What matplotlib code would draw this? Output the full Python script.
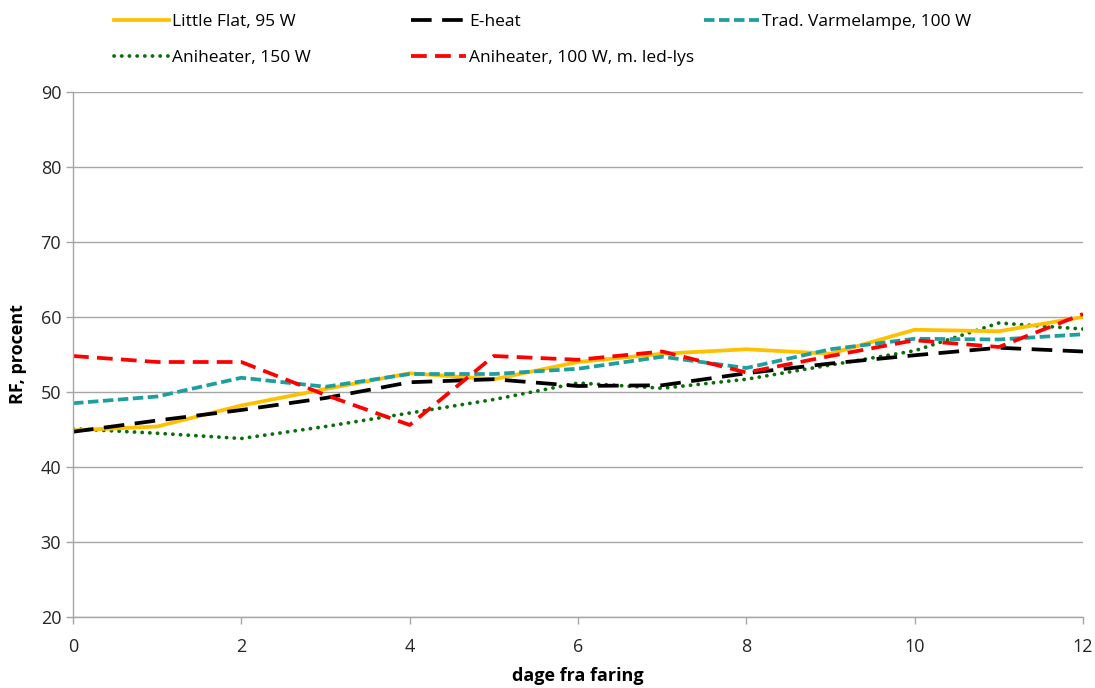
import matplotlib
matplotlib.use("Agg")
import matplotlib.pyplot as plt

plt.rcParams['font.family'] = ['Open Sans', 'DejaVu Sans']

days = list(range(13))
little_flat = [44.9, 45.4, 48.2, 50.4, 52.5, 51.7, 54.0, 55.1, 55.7, 55.1, 58.3, 58.1, 60.0]
e_heat = [44.7, 46.2, 47.6, 49.2, 51.3, 51.7, 50.8, 50.9, 52.5, 53.8, 54.9, 55.9, 55.4]
trad_varmelampe = [48.5, 49.4, 51.9, 50.7, 52.4, 52.4, 53.1, 54.7, 53.2, 55.7, 57.1, 57.0, 57.7]
aniheater_150 = [45.1, 44.5, 43.8, 45.4, 47.2, 49.0, 51.2, 50.5, 51.7, 53.6, 55.5, 59.2, 58.4]
aniheater_100 = [54.8, 54.0, 54.0, 49.6, 45.6, 54.8, 54.3, 55.4, 52.6, 54.8, 56.9, 56.0, 60.4]

labels = ["Little Flat, 95 W", "E-heat", "Trad. Varmelampe, 100 W",
          "Aniheater, 150 W", "Aniheater, 100 W, m. led-lys"]
xticks = [0, 2, 4, 6, 8, 10, 12]
yticks = [20, 30, 40, 50, 60, 70, 80, 90]

fig = plt.figure(figsize=(10.95, 6.88), dpi=100)
ax = fig.add_axes([73/1095, 1-617/688, (1083-73)/1095, (617-92)/688])

lw = 2.7
styles = [
    dict(color="#FFC000", linestyle="-", lw=lw),
    dict(color="black", linestyle=(0, (5.5, 2.8)), lw=lw),
    dict(color="#1F9E9E", linestyle=(0, (2.8, 1.2)), lw=lw),
    dict(color="#0A6E0A", linestyle=(0, (0.05, 2.0)), lw=lw, dash_capstyle="round"),
    dict(color="#FF0000", linestyle=(0, (4.2, 2.2)), lw=lw),
]
series = [little_flat, e_heat, trad_varmelampe, aniheater_150, aniheater_100]
draw_order = [3, 0, 1, 2, 4]
handles = [None]*5
for i in draw_order:
    (ln,) = ax.plot(days, series[i], label=labels[i], **styles[i])
    handles[i] = ln

ax.set_xlim(0, 12)
ax.set_ylim(20, 90)
ax.set_xticks(xticks)
ax.set_yticks(yticks)
ax.grid(axis='y', color="#a6a6a6", lw=1)
ax.set_axisbelow(True)
for s in ['top', 'right']:
    ax.spines[s].set_visible(False)
for s in ['left', 'bottom']:
    ax.spines[s].set_color("#a6a6a6")
    ax.spines[s].set_linewidth(1)
ax.tick_params(axis='both', colors="#a6a6a6", labelcolor="#262626", labelsize=13, length=5, width=1)
ax.tick_params(axis='x', pad=10)
ax.set_xlabel("dage fra faring", fontsize=13, fontweight='bold', labelpad=8)
ax.set_ylabel("RF, procent", fontsize=13, fontweight='bold', labelpad=10)

# legend: three columns placed explicitly
cols = [([0, 3], 115), ([1, 4], 412), ([2], 705)]
for idx, xpx in cols:
    fig.legend([handles[i] for i in idx], [labels[i] for i in idx],
               loc='upper left', bbox_to_anchor=(xpx/1095 - 0.006, 1 - 9/688),
               frameon=False, fontsize=12.5, handlelength=3.2, handletextpad=0.15,
               labelspacing=1.1, borderaxespad=0, borderpad=0.3)

fig.savefig("out.png", dpi=100)
